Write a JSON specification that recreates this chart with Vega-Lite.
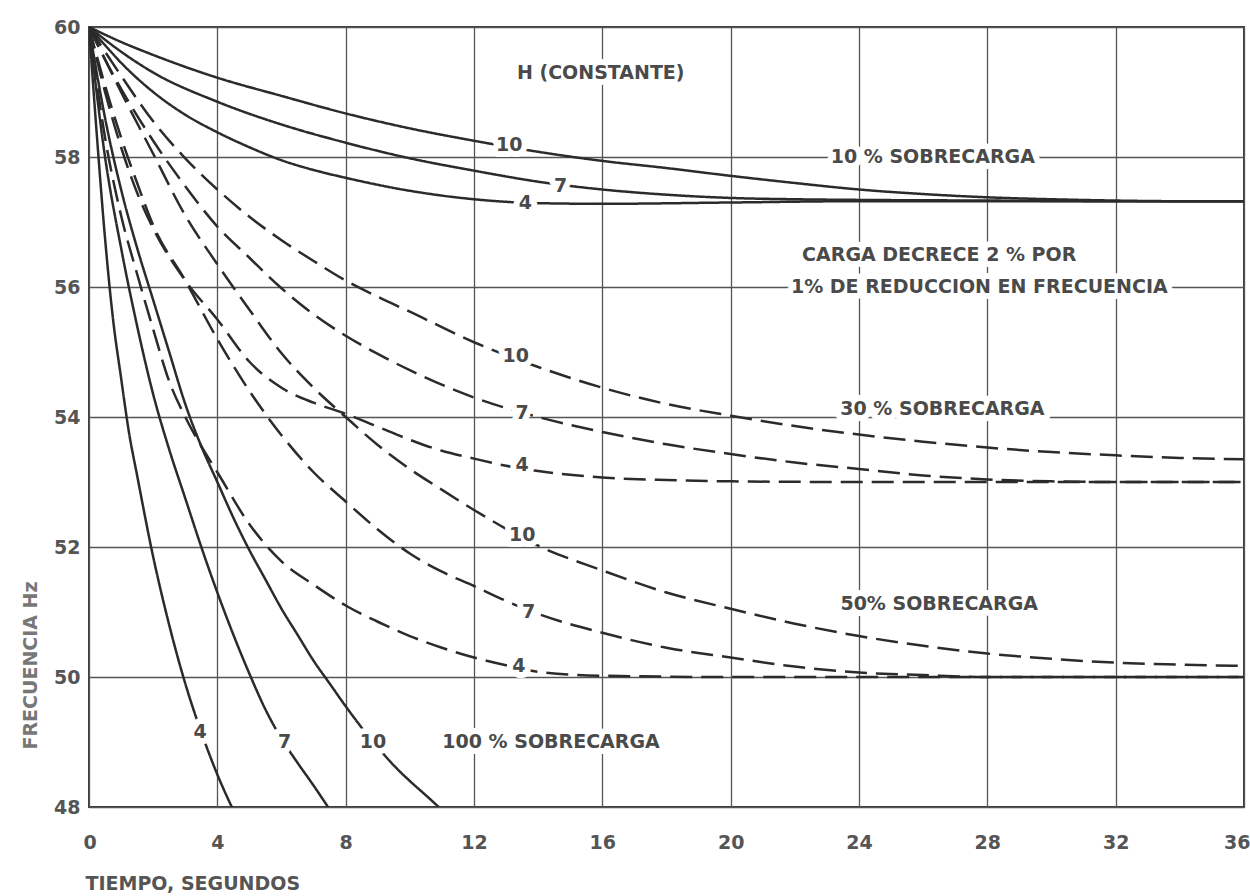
{
  "$schema": "https://vega.github.io/schema/vega-lite/v6.json",
  "width": 1155,
  "height": 780,
  "autosize": {"type": "none"},
  "padding": {"left": 89, "top": 27, "right": 6, "bottom": 89},
  "background": "#ffffff",
  "config": {
    "font": "DejaVu Sans",
    "view": {"stroke": "#3a3a3a", "strokeWidth": 2}
  },
  "datasets": {
    "curvas": [
      {"s":"10%","H":10,"t":0,"f":60},{"s":"10%","H":10,"t":1,"f":59.77},{"s":"10%","H":10,"t":2,"f":59.57},{"s":"10%","H":10,"t":4,"f":59.22},{"s":"10%","H":10,"t":6,"f":58.94},{"s":"10%","H":10,"t":8,"f":58.67},{"s":"10%","H":10,"t":10,"f":58.44},{"s":"10%","H":10,"t":12,"f":58.25},{"s":"10%","H":10,"t":14,"f":58.08},{"s":"10%","H":10,"t":16,"f":57.94},{"s":"10%","H":10,"t":18,"f":57.83},{"s":"10%","H":10,"t":20,"f":57.71},{"s":"10%","H":10,"t":22,"f":57.6},{"s":"10%","H":10,"t":24,"f":57.5},{"s":"10%","H":10,"t":26,"f":57.43},{"s":"10%","H":10,"t":28,"f":57.38},{"s":"10%","H":10,"t":30,"f":57.35},{"s":"10%","H":10,"t":32,"f":57.33},{"s":"10%","H":10,"t":34,"f":57.32},{"s":"10%","H":10,"t":36,"f":57.32},
      {"s":"10%","H":7,"t":0,"f":60},{"s":"10%","H":7,"t":1,"f":59.62},{"s":"10%","H":7,"t":2,"f":59.3},{"s":"10%","H":7,"t":4,"f":58.85},{"s":"10%","H":7,"t":6,"f":58.5},{"s":"10%","H":7,"t":8,"f":58.22},{"s":"10%","H":7,"t":10,"f":57.98},{"s":"10%","H":7,"t":12,"f":57.79},{"s":"10%","H":7,"t":14,"f":57.62},{"s":"10%","H":7,"t":16,"f":57.5},{"s":"10%","H":7,"t":18,"f":57.42},{"s":"10%","H":7,"t":20,"f":57.37},{"s":"10%","H":7,"t":22,"f":57.35},{"s":"10%","H":7,"t":24,"f":57.34},{"s":"10%","H":7,"t":28,"f":57.33},{"s":"10%","H":7,"t":32,"f":57.32},{"s":"10%","H":7,"t":36,"f":57.32},
      {"s":"10%","H":4,"t":0,"f":60},{"s":"10%","H":4,"t":0.5,"f":59.72},{"s":"10%","H":4,"t":1,"f":59.45},{"s":"10%","H":4,"t":2,"f":59.0},{"s":"10%","H":4,"t":3,"f":58.65},{"s":"10%","H":4,"t":4,"f":58.38},{"s":"10%","H":4,"t":5,"f":58.15},{"s":"10%","H":4,"t":6,"f":57.95},{"s":"10%","H":4,"t":7,"f":57.8},{"s":"10%","H":4,"t":8,"f":57.68},{"s":"10%","H":4,"t":10,"f":57.48},{"s":"10%","H":4,"t":12,"f":57.35},{"s":"10%","H":4,"t":14,"f":57.29},{"s":"10%","H":4,"t":16,"f":57.28},{"s":"10%","H":4,"t":20,"f":57.3},{"s":"10%","H":4,"t":24,"f":57.32},{"s":"10%","H":4,"t":28,"f":57.32},{"s":"10%","H":4,"t":32,"f":57.32},{"s":"10%","H":4,"t":36,"f":57.32},
      {"s":"30%","H":10,"t":0,"f":60},{"s":"30%","H":10,"t":0.5,"f":59.62},{"s":"30%","H":10,"t":1,"f":59.25},{"s":"30%","H":10,"t":2,"f":58.55},{"s":"30%","H":10,"t":3,"f":57.98},{"s":"30%","H":10,"t":4,"f":57.5},{"s":"30%","H":10,"t":5,"f":57.08},{"s":"30%","H":10,"t":6,"f":56.72},{"s":"30%","H":10,"t":7,"f":56.4},{"s":"30%","H":10,"t":8,"f":56.1},{"s":"30%","H":10,"t":9,"f":55.85},{"s":"30%","H":10,"t":10,"f":55.62},{"s":"30%","H":10,"t":12,"f":55.15},{"s":"30%","H":10,"t":14,"f":54.77},{"s":"30%","H":10,"t":16,"f":54.45},{"s":"30%","H":10,"t":18,"f":54.2},{"s":"30%","H":10,"t":20,"f":54.02},{"s":"30%","H":10,"t":22,"f":53.86},{"s":"30%","H":10,"t":24,"f":53.73},{"s":"30%","H":10,"t":26,"f":53.62},{"s":"30%","H":10,"t":28,"f":53.53},{"s":"30%","H":10,"t":30,"f":53.46},{"s":"30%","H":10,"t":32,"f":53.41},{"s":"30%","H":10,"t":34,"f":53.37},{"s":"30%","H":10,"t":36,"f":53.35},
      {"s":"30%","H":7,"t":0,"f":60},{"s":"30%","H":7,"t":0.5,"f":59.5},{"s":"30%","H":7,"t":1,"f":59.05},{"s":"30%","H":7,"t":2,"f":58.25},{"s":"30%","H":7,"t":3,"f":57.55},{"s":"30%","H":7,"t":4,"f":56.93},{"s":"30%","H":7,"t":5,"f":56.45},{"s":"30%","H":7,"t":6,"f":55.98},{"s":"30%","H":7,"t":7,"f":55.58},{"s":"30%","H":7,"t":8,"f":55.25},{"s":"30%","H":7,"t":9,"f":54.97},{"s":"30%","H":7,"t":10,"f":54.72},{"s":"30%","H":7,"t":12,"f":54.3},{"s":"30%","H":7,"t":14,"f":54.0},{"s":"30%","H":7,"t":16,"f":53.77},{"s":"30%","H":7,"t":18,"f":53.58},{"s":"30%","H":7,"t":20,"f":53.43},{"s":"30%","H":7,"t":22,"f":53.3},{"s":"30%","H":7,"t":24,"f":53.2},{"s":"30%","H":7,"t":26,"f":53.1},{"s":"30%","H":7,"t":28,"f":53.04},{"s":"30%","H":7,"t":30,"f":53.01},{"s":"30%","H":7,"t":32,"f":53.0},{"s":"30%","H":7,"t":36,"f":53.0},
      {"s":"30%","H":4,"t":0,"f":60},{"s":"30%","H":4,"t":0.5,"f":59.0},{"s":"30%","H":4,"t":1,"f":58.15},{"s":"30%","H":4,"t":1.5,"f":57.45},{"s":"30%","H":4,"t":2,"f":56.9},{"s":"30%","H":4,"t":3,"f":56.1},{"s":"30%","H":4,"t":4,"f":55.5},{"s":"30%","H":4,"t":5,"f":54.85},{"s":"30%","H":4,"t":6,"f":54.45},{"s":"30%","H":4,"t":7,"f":54.22},{"s":"30%","H":4,"t":8,"f":54.05},{"s":"30%","H":4,"t":9,"f":53.85},{"s":"30%","H":4,"t":10,"f":53.65},{"s":"30%","H":4,"t":11,"f":53.48},{"s":"30%","H":4,"t":12,"f":53.36},{"s":"30%","H":4,"t":13,"f":53.25},{"s":"30%","H":4,"t":14,"f":53.17},{"s":"30%","H":4,"t":16,"f":53.07},{"s":"30%","H":4,"t":18,"f":53.03},{"s":"30%","H":4,"t":20,"f":53.01},{"s":"30%","H":4,"t":24,"f":53.0},{"s":"30%","H":4,"t":28,"f":53.0},{"s":"30%","H":4,"t":32,"f":53.0},{"s":"30%","H":4,"t":36,"f":53.0},
      {"s":"50%","H":10,"t":0,"f":60},{"s":"50%","H":10,"t":0.5,"f":59.5},{"s":"50%","H":10,"t":1,"f":59.0},{"s":"50%","H":10,"t":2,"f":58.05},{"s":"50%","H":10,"t":3,"f":57.1},{"s":"50%","H":10,"t":4,"f":56.35},{"s":"50%","H":10,"t":5,"f":55.65},{"s":"50%","H":10,"t":6,"f":54.98},{"s":"50%","H":10,"t":7,"f":54.45},{"s":"50%","H":10,"t":8,"f":54.0},{"s":"50%","H":10,"t":9,"f":53.57},{"s":"50%","H":10,"t":10,"f":53.2},{"s":"50%","H":10,"t":11,"f":52.88},{"s":"50%","H":10,"t":12,"f":52.57},{"s":"50%","H":10,"t":13,"f":52.28},{"s":"50%","H":10,"t":14,"f":52.02},{"s":"50%","H":10,"t":16,"f":51.64},{"s":"50%","H":10,"t":18,"f":51.3},{"s":"50%","H":10,"t":20,"f":51.05},{"s":"50%","H":10,"t":22,"f":50.82},{"s":"50%","H":10,"t":24,"f":50.63},{"s":"50%","H":10,"t":26,"f":50.48},{"s":"50%","H":10,"t":28,"f":50.36},{"s":"50%","H":10,"t":30,"f":50.28},{"s":"50%","H":10,"t":32,"f":50.22},{"s":"50%","H":10,"t":34,"f":50.19},{"s":"50%","H":10,"t":36,"f":50.17},
      {"s":"50%","H":7,"t":0,"f":60},{"s":"50%","H":7,"t":0.5,"f":59.1},{"s":"50%","H":7,"t":1,"f":58.3},{"s":"50%","H":7,"t":1.5,"f":57.6},{"s":"50%","H":7,"t":2,"f":56.95},{"s":"50%","H":7,"t":3,"f":56.1},{"s":"50%","H":7,"t":4,"f":55.2},{"s":"50%","H":7,"t":5,"f":54.4},{"s":"50%","H":7,"t":6,"f":53.72},{"s":"50%","H":7,"t":7,"f":53.15},{"s":"50%","H":7,"t":8,"f":52.7},{"s":"50%","H":7,"t":9,"f":52.27},{"s":"50%","H":7,"t":10,"f":51.9},{"s":"50%","H":7,"t":11,"f":51.62},{"s":"50%","H":7,"t":12,"f":51.4},{"s":"50%","H":7,"t":13,"f":51.17},{"s":"50%","H":7,"t":14,"f":50.97},{"s":"50%","H":7,"t":16,"f":50.68},{"s":"50%","H":7,"t":18,"f":50.45},{"s":"50%","H":7,"t":20,"f":50.3},{"s":"50%","H":7,"t":22,"f":50.16},{"s":"50%","H":7,"t":24,"f":50.07},{"s":"50%","H":7,"t":26,"f":50.03},{"s":"50%","H":7,"t":28,"f":50.0},{"s":"50%","H":7,"t":32,"f":50.0},{"s":"50%","H":7,"t":36,"f":50.0},
      {"s":"50%","H":4,"t":0,"f":60},{"s":"50%","H":4,"t":0.5,"f":58.3},{"s":"50%","H":4,"t":1,"f":57.1},{"s":"50%","H":4,"t":1.5,"f":56.2},{"s":"50%","H":4,"t":2,"f":55.35},{"s":"50%","H":4,"t":2.5,"f":54.55},{"s":"50%","H":4,"t":3,"f":54.0},{"s":"50%","H":4,"t":3.5,"f":53.55},{"s":"50%","H":4,"t":4,"f":53.15},{"s":"50%","H":4,"t":5,"f":52.35},{"s":"50%","H":4,"t":6,"f":51.78},{"s":"50%","H":4,"t":7,"f":51.42},{"s":"50%","H":4,"t":8,"f":51.1},{"s":"50%","H":4,"t":9,"f":50.85},{"s":"50%","H":4,"t":10,"f":50.63},{"s":"50%","H":4,"t":11,"f":50.45},{"s":"50%","H":4,"t":12,"f":50.3},{"s":"50%","H":4,"t":13,"f":50.18},{"s":"50%","H":4,"t":14,"f":50.08},{"s":"50%","H":4,"t":16,"f":50.02},{"s":"50%","H":4,"t":20,"f":50.0},{"s":"50%","H":4,"t":24,"f":50.0},{"s":"50%","H":4,"t":28,"f":50.0},{"s":"50%","H":4,"t":32,"f":50.0},{"s":"50%","H":4,"t":36,"f":50.0},
      {"s":"100%","H":4,"t":0,"f":60},{"s":"100%","H":4,"t":0.25,"f":58.3},{"s":"100%","H":4,"t":0.5,"f":56.75},{"s":"100%","H":4,"t":0.75,"f":55.5},{"s":"100%","H":4,"t":1,"f":54.6},{"s":"100%","H":4,"t":1.25,"f":53.75},{"s":"100%","H":4,"t":1.5,"f":53.1},{"s":"100%","H":4,"t":2,"f":51.85},{"s":"100%","H":4,"t":2.5,"f":50.8},{"s":"100%","H":4,"t":3,"f":49.9},{"s":"100%","H":4,"t":3.5,"f":49.15},{"s":"100%","H":4,"t":4,"f":48.5},{"s":"100%","H":4,"t":4.45,"f":48.0},
      {"s":"100%","H":7,"t":0,"f":60},{"s":"100%","H":7,"t":0.5,"f":58.0},{"s":"100%","H":7,"t":1,"f":56.6},{"s":"100%","H":7,"t":1.5,"f":55.4},{"s":"100%","H":7,"t":2,"f":54.35},{"s":"100%","H":7,"t":2.5,"f":53.5},{"s":"100%","H":7,"t":3,"f":52.75},{"s":"100%","H":7,"t":3.5,"f":52.0},{"s":"100%","H":7,"t":4,"f":51.3},{"s":"100%","H":7,"t":4.5,"f":50.65},{"s":"100%","H":7,"t":5,"f":50.05},{"s":"100%","H":7,"t":5.5,"f":49.5},{"s":"100%","H":7,"t":6,"f":49.05},{"s":"100%","H":7,"t":6.5,"f":48.68},{"s":"100%","H":7,"t":7,"f":48.33},{"s":"100%","H":7,"t":7.45,"f":48.0},
      {"s":"100%","H":10,"t":0,"f":60},{"s":"100%","H":10,"t":0.5,"f":58.6},{"s":"100%","H":10,"t":1,"f":57.5},{"s":"100%","H":10,"t":1.5,"f":56.6},{"s":"100%","H":10,"t":2,"f":55.8},{"s":"100%","H":10,"t":2.5,"f":55.0},{"s":"100%","H":10,"t":3,"f":54.2},{"s":"100%","H":10,"t":3.5,"f":53.55},{"s":"100%","H":10,"t":4,"f":53.0},{"s":"100%","H":10,"t":4.5,"f":52.45},{"s":"100%","H":10,"t":5,"f":51.95},{"s":"100%","H":10,"t":5.5,"f":51.5},{"s":"100%","H":10,"t":6,"f":51.05},{"s":"100%","H":10,"t":6.5,"f":50.65},{"s":"100%","H":10,"t":7,"f":50.25},{"s":"100%","H":10,"t":7.5,"f":49.9},{"s":"100%","H":10,"t":8,"f":49.55},{"s":"100%","H":10,"t":8.5,"f":49.22},{"s":"100%","H":10,"t":9,"f":48.92},{"s":"100%","H":10,"t":9.5,"f":48.64},{"s":"100%","H":10,"t":10,"f":48.4},{"s":"100%","H":10,"t":10.5,"f":48.18},{"s":"100%","H":10,"t":10.9,"f":48.0}
    ],
    "etiquetas": [
      {"txt":"H (CONSTANTE)","t":15.95,"f":59.29},
      {"txt":"10 % SOBRECARGA","t":26.3,"f":58.0},
      {"txt":"CARGA DECRECE  2 % POR","t":26.5,"f":56.5},
      {"txt":"1% DE REDUCCION EN FRECUENCIA","t":27.75,"f":56.0},
      {"txt":"30 % SOBRECARGA","t":26.6,"f":54.12},
      {"txt":"50% SOBRECARGA","t":26.5,"f":51.13},
      {"txt":"100 % SOBRECARGA","t":14.4,"f":49.0},
      {"txt":"10","t":13.1,"f":58.18},
      {"txt":"7","t":14.7,"f":57.56},
      {"txt":"4","t":13.6,"f":57.3},
      {"txt":"10","t":13.3,"f":54.94},
      {"txt":"7","t":13.5,"f":54.06},
      {"txt":"4","t":13.5,"f":53.26},
      {"txt":"10","t":13.5,"f":52.18},
      {"txt":"7","t":13.7,"f":51.0},
      {"txt":"4","t":13.4,"f":50.17},
      {"txt":"4","t":3.46,"f":49.15},
      {"txt":"7","t":6.1,"f":49.0},
      {"txt":"10","t":8.85,"f":49.0}
    ]
  },
  "layer": [
    {
      "data": {"name": "curvas"},
      "mark": {"type": "line", "clip": true, "strokeWidth": 2.5, "color": "#2b2b2b", "interpolate": "monotone"},
      "encoding": {
        "x": {
          "field": "t", "type": "quantitative",
          "scale": {"domain": [0, 36], "nice": false, "zero": false},
          "axis": {
            "values": [0, 4, 8, 12, 16, 20, 24, 28, 32, 36],
            "format": "d",
            "grid": true, "gridColor": "#555555", "gridWidth": 1.3, "gridOpacity": 1,
            "domain": false, "ticks": false, "tickSize": 0,
            "labelFont": "DejaVu Sans", "labelFontWeight": "bold", "labelFontSize": 19, "labelColor": "#555555",
            "labelPadding": 35, "labelBaseline": "middle", "labelFlush": true, "labelFlushOffset": 6,
            "title": "TIEMPO, SEGUNDOS", "titleFont": "DejaVu Sans", "titleFontWeight": "bold", "titleFontSize": 19, "titleColor": "#555555",
            "titleAnchor": "start", "titleAlign": "left", "titleBaseline": "middle", "titleX": -4, "titleY": 76
          }
        },
        "y": {
          "field": "f", "type": "quantitative",
          "scale": {"domain": [48, 60], "nice": false, "zero": false},
          "axis": {
            "values": [48, 50, 52, 54, 56, 58, 60],
            "format": "d",
            "grid": true, "gridColor": "#555555", "gridWidth": 1.3, "gridOpacity": 1,
            "domain": false, "ticks": false, "tickSize": 0,
            "labelFont": "DejaVu Sans", "labelFontWeight": "bold", "labelFontSize": 19, "labelColor": "#555555",
            "labelPadding": 9, "labelFlush": false,
            "title": "FRECUENCIA Hz", "titleFont": "DejaVu Sans", "titleFontWeight": "bold", "titleFontSize": 19, "titleColor": "#777777",
            "titleAngle": 270, "titleAlign": "center", "titleBaseline": "middle", "titleX": -59, "titleY": 638
          }
        },
        "strokeDash": {
          "field": "s", "type": "nominal",
          "scale": {"domain": ["10%", "30%", "50%", "100%"], "range": [[1, 0], [22, 9], [22, 9], [1, 0]]},
          "legend": null
        },
        "detail": {"field": "H", "type": "nominal"},
        "order": {"field": "t", "type": "quantitative"}
      }
    },
    {
      "data": {"name": "etiquetas"},
      "mark": {"type": "text", "font": "DejaVu Sans", "fontWeight": "bold", "fontSize": 19, "fill": "#ffffff", "stroke": "#ffffff", "strokeWidth": 12, "strokeJoin": "round", "align": "center", "baseline": "middle"},
      "encoding": {
        "x": {"field": "t", "type": "quantitative"},
        "y": {"field": "f", "type": "quantitative"},
        "text": {"field": "txt"}
      }
    },
    {
      "data": {"name": "etiquetas"},
      "mark": {"type": "text", "font": "DejaVu Sans", "fontWeight": "bold", "fontSize": 19, "fill": "#4a4a4a", "align": "center", "baseline": "middle"},
      "encoding": {
        "x": {"field": "t", "type": "quantitative"},
        "y": {"field": "f", "type": "quantitative"},
        "text": {"field": "txt"}
      }
    }
  ]
}
